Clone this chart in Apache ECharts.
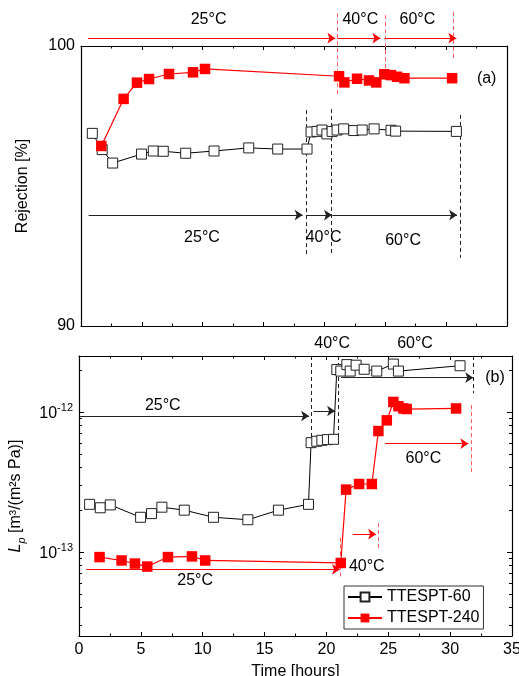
<!DOCTYPE html>
<html lang="en">
<head>
<meta charset="UTF-8">
<title>Rejection and Lp vs time</title>
<style>
  html, body { margin: 0; padding: 0; background: #fff; }
  #main { width: 519px; height: 676px; }
</style>
</head>
<body>
<div id="main"></div>
<script src="https://cdn.jsdelivr.net/npm/echarts@6/dist/echarts.min.js"></script>
<script>
// panel (a): rejection [%]
var rejTime60 = [0.93, 1.74, 2.6, 4.97, 5.94, 6.76, 8.6, 10.93, 13.78, 16.16, 18.57,
    18.9, 19.39, 19.8, 20.2, 20.63, 21.04, 21.58, 22.41, 23.1, 24.08, 25.47, 25.85, 30.84];
var rej60 = [96.88, 96.3, 95.82, 96.14, 96.25, 96.24, 96.17, 96.25, 96.36, 96.32, 96.32,
    96.93, 96.95, 97.0, 96.86, 96.95, 97.0, 97.04, 96.98, 97.0, 97.04, 96.99, 96.96, 96.95];
var rejTime240 = [1.67, 3.5, 4.6, 5.59, 7.23, 9.2, 10.19, 21.2, 21.64, 22.68, 23.66, 24.26,
    24.92, 25.47, 25.97, 26.57, 30.49];
var rej240 = [96.43, 98.11, 98.69, 98.82, 99.0, 99.06, 99.18, 98.92, 98.7, 98.83, 98.77, 98.7,
    98.99, 98.96, 98.9, 98.85, 98.85];

// panel (b): Lp [m3/(m2 s Pa)]
var lpTime60 = [0.86, 1.72, 2.53, 4.98, 5.86, 6.7, 8.51, 10.87, 13.65, 16.12, 18.55,
    18.76, 19.22, 19.63, 20.08, 20.57,
    20.84, 21.16, 21.65, 21.92, 22.4, 23.05, 24.07, 25.41, 25.82, 30.8];
var lp60 = [2.19e-13, 2.07e-13, 2.17e-13, 1.77e-13, 1.88e-13, 2.09e-13, 1.99e-13, 1.77e-13, 1.70e-13, 1.99e-13, 2.19e-13,
    6.04e-13, 6.18e-13, 6.28e-13, 6.35e-13, 6.38e-13,
    2.01e-12, 1.96e-12, 2.18e-12, 1.96e-12, 2.16e-12, 2.02e-12, 1.96e-12, 2.20e-12, 1.96e-12, 2.14e-12];
var lpTime240 = [1.66, 3.44, 4.52, 5.52, 7.19, 9.13, 10.2, 21.16, 21.59, 22.64, 23.67,
    24.2, 24.88, 25.41, 25.82, 26.22, 26.49, 30.48];
var lp240 = [9.2e-14, 8.7e-14, 8.27e-14, 7.87e-14, 9.2e-14, 9.3e-14, 8.7e-14, 8.35e-14, 2.79e-13, 3.06e-13, 3.06e-13,
    7.31e-13, 8.72e-13, 1.18e-12, 1.10e-12, 1.06e-12, 1.05e-12, 1.06e-12];

var seriesNames = ['TTESPT-60', 'TTESPT-240'];
var rejTicks = [90, 100];
var lpDecades = [1e-13, 1e-12];
var lpMin = 2.512e-14, lpMax = 2.512e-12;

// annotations, in data units: arrows [x1, x2, y], dashed [x, y1, y2], text [x, y, text]
var arrowsRedA = [[0.58, 20.9, 100.28], [21.06, 24.6, 100.28], [24.92, 30.84, 100.28]];
var dashRedA = [[21.06, 101.17, 98.25], [25.0, 101.1, 98.79], [30.57, 101.22, 99.57]];
var arrowsBlackA = [[0.63, 18.21, 93.96], [18.51, 20.62, 93.96], [20.65, 30.9, 93.96]];
var dashBlackA = [[18.49, 97.71, 92.48], [20.54, 97.75, 92.5], [31.17, 97.54, 92.43]];
var textA = [[10.48, 100.93, '25°C'], [22.95, 100.93, '40°C'], [27.64, 100.93, '60°C'],
    [9.94, 93.15, '25°C'], [19.93, 93.14, '40°C'], [26.46, 93.04, '60°C'], [33.33, 98.85, '(a)']];

var arrowsBlackB = [[0.05, 18.6, 9.36e-13], [18.95, 20.7, 1.016e-12], [21.2, 31.87, 1.76e-12]];
var dashBlackB = [[18.76, 2.512e-12, 6.59e-13], [20.92, 2.512e-12, 6.67e-13], [31.87, 2.512e-12, 1.36e-12]];
var arrowsRedB = [[24.74, 31.47, 5.94e-13], [22.13, 24.02, 1.34e-13], [0.59, 21.1, 7.52e-14]];
var dashRedB = [[31.69, 1.12e-12, 3.66e-13], [24.15, 1.61e-13, 1.02e-13], [21.1, 1.27e-13, 6.62e-14]];
var textB = [[6.77, 1.12e-12, '25°C'], [20.46, 3.08e-12, '40°C'], [27.16, 3.08e-12, '60°C'], [33.63, 1.77e-12, '(b)'],
    [27.84, 4.65e-13, '60°C'], [23.26, 7.82e-14, '40°C'], [9.39, 6.28e-14, '25°C']];

var font = '"Liberation Sans", Arial, sans-serif';
var red = '#ff0000';
var redDash = '#ff5a5a';

var minorLog = [];
for (var e = -14; e <= -12; e++) {
    for (var k = 2; k <= 9; k++) {
        var v = k * Math.pow(10, e);
        if (v > lpMin && v < lpMax) minorLog.push(v);
    }
}

function zip(xs, ys) {
    return xs.map(function (x, i) { return [x, ys[i]]; });
}

// arrows / dashed guides as 'lines' series so they can sit outside the plot box
function arrowSeries(list, xi, yi, color) {
    return {
        type: 'lines', coordinateSystem: 'cartesian2d', xAxisIndex: xi, yAxisIndex: yi,
        clip: false, silent: true, z: 3,
        symbol: ['none', 'arrow'], symbolSize: 8,
        lineStyle: {color: color, width: 1, opacity: 1, curveness: 0},
        data: list.map(function (a) { return {coords: [[a[0], a[2]], [a[1], a[2]]]}; })
    };
}

function dashSeries(list, xi, yi, color) {
    return {
        type: 'lines', coordinateSystem: 'cartesian2d', xAxisIndex: xi, yAxisIndex: yi,
        clip: false, silent: true, z: 3,
        symbol: 'none',
        lineStyle: {color: color, width: 1, opacity: 1, type: [4, 3], curveness: 0},
        data: list.map(function (d) { return {coords: [[d[0], d[1]], [d[0], d[2]]]}; })
    };
}

function textSeries(list, xi, yi) {
    return {
        type: 'scatter', xAxisIndex: xi, yAxisIndex: yi, clip: false, silent: true,
        symbolSize: 1, itemStyle: {color: 'rgba(0,0,0,0)', opacity: 1},
        label: {show: true, position: 'inside', formatter: '{b}', color: '#000', fontSize: 16, fontFamily: font},
        data: list.map(function (t) { return {name: t[2], value: [t[0], t[1]]}; }),
        z: 5
    };
}

function xAx(grid, pos, labels) {
    return {
        type: 'value', gridIndex: grid, position: pos, min: 0, max: 35, interval: 5,
        axisLine: {onZero: false, lineStyle: {color: '#000', width: 1.2}},
        axisTick: {inside: true, length: 4, lineStyle: {color: '#000'}},
        minorTick: {show: true, splitNumber: 2, length: 2.5, lineStyle: {color: '#000'}},
        axisLabel: {show: labels, color: '#000', fontSize: 16, fontFamily: font, margin: 6},
        splitLine: {show: false},
        name: labels ? 'Time [hours]' : '',
        nameLocation: 'middle', nameGap: 28,
        nameTextStyle: {color: '#000', fontSize: 16, fontFamily: font}
    };
}

function lpAx(pos, minor, labels) {
    return {
        type: 'log', logBase: 10, gridIndex: 1, position: pos, min: lpMin, max: lpMax,
        axisLine: {show: !minor, onZero: false, lineStyle: {color: '#000', width: 1.2}},
        axisTick: minor
            ? {inside: true, length: 3, customValues: minorLog, lineStyle: {color: '#000'}}
            : {inside: true, length: 5, lineStyle: {color: '#000'}},
        axisLabel: {
            show: labels, margin: 6,
            formatter: function (v) {
                var p = Math.log10(v);
                if (Math.abs(p - Math.round(p)) > 1e-6) return '';
                for (var i = 0; i < lpDecades.length; i++) {
                    if (Math.abs(Math.log10(lpDecades[i]) - p) < 1e-6) {
                        return '{b|10}{s|' + Math.round(p) + '}';
                    }
                }
                return '';
            },
            rich: {
                b: {fontSize: 16, fontFamily: font, color: '#000', verticalAlign: 'bottom'},
                s: {fontSize: 11, fontFamily: font, color: '#000', verticalAlign: 'top', padding: [0, 0, 9, 0]}
            }
        },
        splitLine: {show: false},
        name: labels ? '{it|L}{sub|p}{n| [m³/(m²s Pa)]}' : '',
        nameLocation: 'middle', nameRotate: 90, nameGap: 52,
        nameTextStyle: {
            color: '#000', fontSize: 16, fontFamily: font,
            rich: {
                it: {fontSize: 16, fontFamily: font, fontStyle: 'italic', color: '#000', verticalAlign: 'top'},
                sub: {fontSize: 11, fontFamily: font, fontStyle: 'italic', color: '#000', verticalAlign: 'bottom', padding: [8, 0, 0, 0]},
                n: {fontSize: 16, fontFamily: font, color: '#000', verticalAlign: 'top'}
            }
        }
    };
}

var chart = echarts.init(document.getElementById('main'));

chart.setOption({
    animation: false,
    backgroundColor: '#fff',
    grid: [
        {left: 81, top: 46, width: 426, height: 280, outerBoundsMode: 'none'},
        {left: 79, top: 356, width: 433, height: 280, outerBoundsMode: 'none'}
    ],
    xAxis: [xAx(0, 'bottom', false), xAx(0, 'top', false), xAx(1, 'bottom', true), xAx(1, 'top', false)],
    yAxis: [
        {
            type: 'value', gridIndex: 0, position: 'left', min: rejTicks[0], max: rejTicks[1], interval: rejTicks[1] - rejTicks[0],
            axisLine: {onZero: false, lineStyle: {color: '#000', width: 1.2}},
            axisTick: {show: false},
            axisLabel: {color: '#000', fontSize: 16, fontFamily: font, margin: 6},
            splitLine: {show: false},
            name: 'Rejection [%]', nameLocation: 'middle', nameRotate: 90, nameGap: 50,
            nameTextStyle: {color: '#000', fontSize: 16, fontFamily: font}
        },
        {
            type: 'value', gridIndex: 0, position: 'right', min: rejTicks[0], max: rejTicks[1],
            axisLine: {show: true, onZero: false, lineStyle: {color: '#000', width: 1.2}},
            axisTick: {show: false}, axisLabel: {show: false}, splitLine: {show: false}
        },
        lpAx('left', false, true),
        lpAx('left', true, false),
        lpAx('right', false, false),
        lpAx('right', true, false)
    ],
    legend: {
        data: seriesNames,
        orient: 'vertical',
        left: 344, top: 586,
        itemWidth: 34, itemHeight: 11, itemGap: 5,
        padding: [3, 4, 3, 3],
        borderColor: '#333', borderWidth: 1,
        backgroundColor: '#fff',
        textStyle: {color: '#000', fontSize: 16, fontFamily: font}
    },
    series: [
        {
            name: seriesNames[0], type: 'line', xAxisIndex: 0, yAxisIndex: 0,
            data: zip(rejTime60, rej60), clip: false,
            symbol: 'rect', symbolSize: 10,
            lineStyle: {color: '#000', width: 1},
            itemStyle: {color: '#fff', borderColor: '#222', borderWidth: 1}
        },
        {
            name: seriesNames[1], type: 'line', xAxisIndex: 0, yAxisIndex: 0,
            data: zip(rejTime240, rej240), clip: false,
            symbol: 'rect', symbolSize: 10.5,
            lineStyle: {color: red, width: 1.2},
            itemStyle: {color: red, borderColor: red, borderWidth: 0}
        },
        {
            name: seriesNames[0], type: 'line', xAxisIndex: 2, yAxisIndex: 2,
            data: zip(lpTime60, lp60), clip: false,
            symbol: 'rect', symbolSize: 10,
            lineStyle: {color: '#000', width: 1},
            itemStyle: {color: '#fff', borderColor: '#222', borderWidth: 1}
        },
        {
            name: seriesNames[1], type: 'line', xAxisIndex: 2, yAxisIndex: 2,
            data: zip(lpTime240, lp240), clip: false,
            symbol: 'rect', symbolSize: 10.5,
            lineStyle: {color: red, width: 1.2},
            itemStyle: {color: red, borderColor: red, borderWidth: 0}
        },
        arrowSeries(arrowsBlackA, 0, 0, '#222'),
        dashSeries(dashBlackA, 0, 0, '#222'),
        arrowSeries(arrowsRedA, 0, 0, red),
        dashSeries(dashRedA, 0, 0, redDash),
        arrowSeries(arrowsBlackB, 2, 2, '#222'),
        dashSeries(dashBlackB, 2, 2, '#222'),
        arrowSeries(arrowsRedB, 2, 2, red),
        dashSeries(dashRedB, 2, 2, redDash),
        textSeries(textA, 0, 0),
        textSeries(textB, 2, 2)
    ]
});
</script>
</body>
</html>
